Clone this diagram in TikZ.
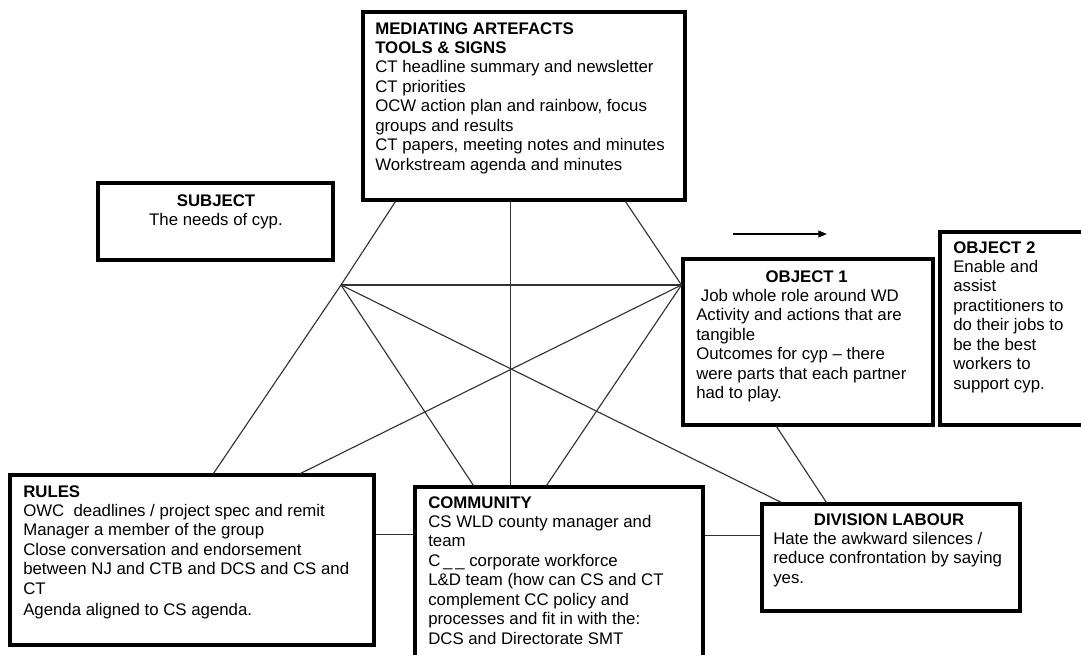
\documentclass[tikz,border=0pt]{standalone}
\usepackage{fontspec}
\setmainfont{Liberation Sans}
\usetikzlibrary{fit,arrows.meta}
\begin{document}
\begin{tikzpicture}[x=0.75pt,y=-0.75pt,
  box/.style={draw=black, line width=2.3pt, inner sep=0pt},
  conn/.style={draw=black!80, line width=0.85pt},
  txt/.style={anchor=base west, inner sep=0pt, font=\fontsize{12.6}{14.6}\selectfont},
  arr/.style={draw=black, line width=1.2pt, -{Triangle[length=6.5pt,width=5pt]}}
]
\useasboundingbox (0,0) rectangle (1081,654);
% boxes
\node[box, fit={(363,12) (685,200)}] (med) {};
\node[box, fit={(98,183) (333,260)}] (subj) {};
\node[box, fit={(683,259) (933,425)}] (obj1) {};
\node[box, fit={(940,232) (1090,425)}] (obj2) {};
\node[box, fit={(10,475) (374,645)}] (rules) {};
\node[box, fit={(415,487) (703,668)}] (comm) {};
\node[box, fit={(762,504) (1020,611)}] (div) {};
% texts
\node[txt] (medtxt) at (375,34) {\begin{tabular}[t]{@{}l@{}}
\textbf{MEDIATING ARTEFACTS}\\
\textbf{TOOLS \& SIGNS}\\
CT headline summary and newsletter\\
CT priorities\\
OCW action plan and rainbow, focus\\
groups and results\\
CT papers, meeting notes and minutes\\
Workstream agenda and minutes\end{tabular}};
\node[txt, anchor=base] (subjtxt) at (216,206) {\begin{tabular}[t]{@{}c@{}}
\textbf{SUBJECT}\\
The needs of cyp.\end{tabular}};
\node[txt] (obj1txt) at (696,282) {\begin{tabular}[t]{@{}l@{}}
\multicolumn{1}{c}{\hspace{8pt}\textbf{OBJECT 1}}\\
\ Job whole role around WD\\
Activity and actions that are\\
tangible\\
Outcomes for cyp -- there\\
were parts that each partner\\
had to play.\end{tabular}};
\node[txt] (obj2txt) at (953,253) {\begin{tabular}[t]{@{}l@{}}
\textbf{OBJECT 2}\\
Enable and\\
assist\\
practitioners to\\
do their jobs to\\
be the best\\
workers to\\
support cyp.\end{tabular}};
\node[txt] (rulestxt) at (23,497) {\begin{tabular}[t]{@{}l@{}}
\textbf{RULES}\\
OWC\ \ deadlines / project spec and remit\\
Manager a member of the group\\
Close conversation and endorsement\\
between NJ and CTB and DCS and CS and\\
CT\\[1.2pt]
Agenda aligned to CS agenda.\end{tabular}};
\node[txt] (commtxt) at (428,508) {\begin{tabular}[t]{@{}l@{}}
\textbf{COMMUNITY}\\
CS WLD county manager and\\
team\\
C\,\_\,\_ corporate workforce\\
L\&D team (how can CS and CT\\
complement CC policy and\\
processes and fit in with the:\\
DCS and Directorate SMT\end{tabular}};
\node[txt] (divtxt) at (773,525) {\begin{tabular}[t]{@{}l@{}}
\multicolumn{1}{c}{\hspace{2pt}\textbf{DIVISION LABOUR}}\\
Hate the awkward silences /\\
reduce confrontation by saying\\
yes.\end{tabular}};
% connector points
\coordinate (L) at (341,285);
\coordinate (C) at (512,369);
\coordinate (R) at (obj1.west |- L);
\coordinate (mA) at ([shift={(34,0)}]med.south west);
\coordinate (mB) at ([shift={(149,0)}]med.south west);
\coordinate (mC) at ([shift={(264,0)}]med.south west);
\coordinate (rA) at ([shift={(205,0)}]rules.north west);
\coordinate (rB) at ([shift={(292,0)}]rules.north west);
\coordinate (cA) at ([shift={(60,0)}]comm.north west);
\coordinate (cB) at ([shift={(97,0)}]comm.north west);
\coordinate (cC) at ([shift={(133,0)}]comm.north west);
\coordinate (dA) at ([shift={(21,0)}]div.north west);
\coordinate (dB) at ([shift={(66,0)}]div.north west);
\coordinate (oB) at ([shift={(95,0)}]obj1.south west);
\coordinate (h1) at ([shift={(0,61)}]rules.north east);
\coordinate (h2) at ([shift={(0,33)}]div.north west);
% connectors
\draw[conn] (L) -- (mA);
\draw[conn] (R) -- (mC);
\draw[conn] (mB) -- (cB);
\draw[conn] (L) -- (R);
\draw[conn] (L) -- (rA);
\draw[conn] (R) -- (rB);
\draw[conn] (L) -- (dA);
\draw[conn] (L) -- (cA);
\draw[conn] (R) -- (cC);
\draw[conn] (oB) -- (dB);
\draw[conn] (h1) -- (h1 -| comm.west);
\draw[conn] (comm.east |- h2) -- (h2);
% arrow
\coordinate (a1) at (733,234);
\coordinate (a2) at (827,234);
\draw[arr] (a1) -- (a2);
\end{tikzpicture}
\end{document}
